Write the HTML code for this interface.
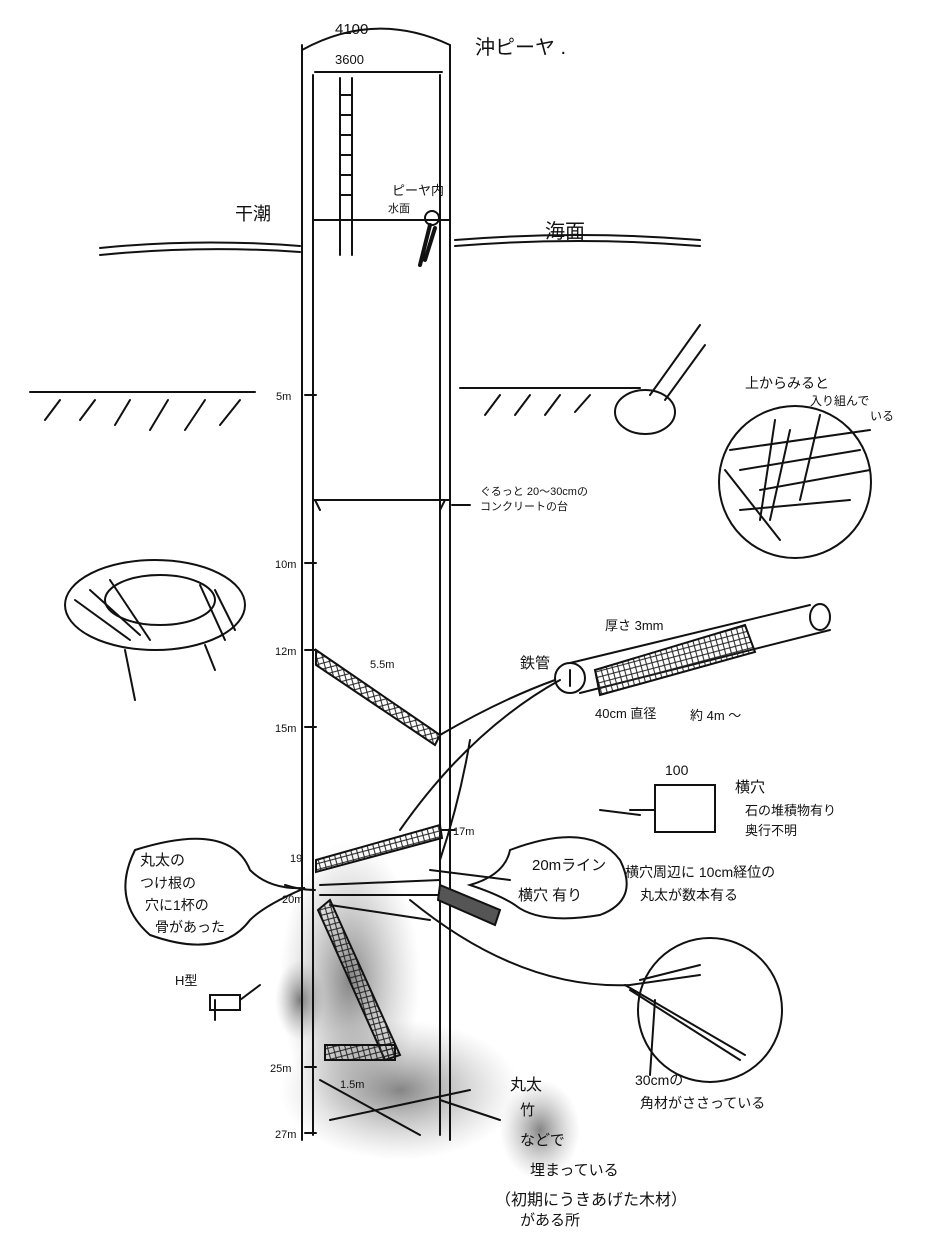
<!DOCTYPE html>
<html><head><meta charset="utf-8"><style>
html,body{margin:0;padding:0;background:#fff}
svg{display:block}
text{font-family:"Liberation Sans","Noto Sans CJK JP",sans-serif;fill:#111}
</style></head><body>
<svg width="937" height="1260" viewBox="0 0 937 1260" xmlns="http://www.w3.org/2000/svg">
<defs>
<radialGradient id="sm" cx="50%" cy="50%" r="50%">
<stop offset="0" stop-color="#333" stop-opacity="0.6"/><stop offset="1" stop-color="#888" stop-opacity="0"/></radialGradient>
<pattern id="xh" width="8" height="8" patternUnits="userSpaceOnUse" patternTransform="rotate(30)">
<path d="M0 0L8 8M8 0L0 8" stroke="#222" stroke-width="1"/></pattern>
</defs>
<g stroke="#111" stroke-width="2" fill="none" stroke-linecap="round">
<!-- smudges -->
<ellipse cx="350" cy="980" rx="70" ry="140" fill="url(#sm)" stroke="none"/>
<ellipse cx="400" cy="1090" rx="120" ry="70" fill="url(#sm)" stroke="none"/>
<ellipse cx="540" cy="1130" rx="40" ry="50" fill="url(#sm)" stroke="none"/>
<ellipse cx="300" cy="1000" rx="25" ry="40" fill="url(#sm)" stroke="none"/>
<!-- shaft -->
<path d="M302 45V1140M313 75V1135M450 45V1140M440 75V1135"/>
<path d="M313 220H450"/>
<!-- top dimensions -->
<path d="M302 50Q375 10 450 45"/><path d="M315 72H442"/>
<!-- ladder -->
<path d="M340 78V255M352 78V255M340 95H352M340 115H352M340 135H352M340 155H352M340 175H352M340 195H352"/>
<!-- sea surface -->
<path d="M100 248Q200 238 300 246M100 255Q200 245 300 252M455 240Q580 230 700 240M455 246Q580 236 700 246"/>
<!-- diver -->
<circle cx="432" cy="218" r="7"/><path d="M430 225L420 265M435 228L425 260" stroke-width="4"/>
<!-- ground -->
<path d="M30 392H255"/>
<path d="M45 420L60 400M80 420L95 400M115 425L130 400M150 430L168 400M185 430L205 400M220 425L240 400"/>
<path d="M460 388H640"/>
<path d="M485 415L500 395M515 415L530 395M545 415L560 395M575 412L590 395"/>
<path d="M650 395L700 325M665 400L705 345"/>
<ellipse cx="645" cy="412" rx="30" ry="22"/>
<!-- ticks -->
<path d="M305 395H316M305 563H316M305 650H316M305 727H316M305 1067H316M305 1133H316M440 830H455"/>
<path d="M313 500H450M320 510L315 500M440 510L445 500M452 505H470"/>
<!-- right top circle -->
<circle cx="795" cy="482" r="76"/>
<path d="M730 450L870 430M740 470L860 450M760 490L870 470M740 510L850 500M775 420L760 520M820 415L800 500M790 430L770 520M725 470L780 540"/>
<!-- left object -->
<ellipse cx="155" cy="605" rx="90" ry="45"/><ellipse cx="160" cy="600" rx="55" ry="25"/>
<path d="M75 600L130 640M90 590L140 635M110 580L150 640M200 585L225 640M215 590L235 630M125 650L135 700M205 645L215 670"/>
<!-- pipe -->
<circle cx="570" cy="678" r="15"/>
<path d="M570 663L810 605M580 693L830 630"/>
<ellipse cx="820" cy="617" rx="10" ry="13"/>
<path d="M595 670L745 625L755 652L600 695Z" fill="url(#xh)"/>
<path d="M570 670V686"/>
<!-- diagonal beams -->
<path d="M316 650L440 735L435 745L316 665Z" fill="url(#xh)"/>
<path d="M316 860L440 825L442 838L316 872Z" fill="url(#xh)"/>
<path d="M320 885L440 880M320 895L445 895M330 905L430 920"/>
<path d="M330 900L400 1055L385 1060L318 910Z" fill="url(#xh)"/>
<path d="M325 1045H395V1060H325Z" fill="url(#xh)"/>
<path d="M440 885L500 910L495 925L438 900Z" fill="#555"/>
<!-- curves/arrows -->
<path d="M440 735Q500 700 555 680M400 830Q470 730 560 680M470 740Q460 800 440 860"/>
<path d="M430 870L510 880M410 900Q520 990 630 985M630 985L700 975"/>
<path d="M600 810L640 815M285 885Q300 890 315 890"/>
<!-- box -->
<path d="M655 785H715V832H655Z"/><path d="M630 810H655"/>
<!-- bubbles -->
<path d="M135 850Q230 820 250 870Q270 890 305 888Q265 905 250 920Q220 960 150 935Q110 900 135 850Z"/>
<path d="M510 850Q590 820 620 860Q640 900 600 915Q540 925 515 905Q500 895 470 885Q505 875 510 850Z"/>
<!-- bottom circle -->
<ellipse cx="710" cy="1010" rx="72" ry="72"/>
<path d="M625 985L745 1055M630 990L740 1060M640 980L700 965M655 1000L650 1075"/>
<!-- H beam -->
<path d="M210 995H240V1010H210ZM215 1000V1020M260 985L240 1000"/>
<path d="M320 1080L420 1135M330 1120L470 1090M440 1100L500 1120"/>
</g>
<g font-size="13">
<text x="335" y="34" font-size="15">4100</text>
<text x="335" y="64" font-size="13">3600</text>
<text x="475" y="54" font-size="20">沖ピーヤ .</text>
<text x="235" y="220" font-size="18">干潮</text>
<text x="545" y="238" font-size="20">海面</text>
<text x="392" y="195">ピーヤ内</text>
<text x="388" y="212" font-size="11">水面</text>
<text x="276" y="400" font-size="11">5m</text>
<text x="275" y="568" font-size="11">10m</text>
<text x="275" y="655" font-size="11">12m</text>
<text x="275" y="732" font-size="11">15m</text>
<text x="453" y="835" font-size="11">17m</text>
<text x="290" y="862" font-size="11">19</text>
<text x="282" y="903" font-size="11">20m</text>
<text x="270" y="1072" font-size="11">25m</text>
<text x="275" y="1138" font-size="11">27m</text>
<text x="370" y="668" font-size="11">5.5m</text>
<text x="340" y="1088" font-size="11">1.5m</text>
<text x="480" y="495" font-size="11">ぐるっと 20〜30cmの</text>
<text x="480" y="510" font-size="11">コンクリートの台</text>
<text x="745" y="388" font-size="14">上からみると</text>
<text x="810" y="405" font-size="12">入り組んで</text>
<text x="870" y="420" font-size="12">いる</text>
<text x="520" y="668" font-size="15">鉄管</text>
<text x="605" y="630" font-size="13">厚さ 3mm</text>
<text x="595" y="718" font-size="13">40cm 直径</text>
<text x="690" y="720" font-size="13">約 4m 〜</text>
<text x="665" y="775" font-size="14">100</text>
<text x="735" y="792" font-size="15">横穴</text>
<text x="745" y="815" font-size="13">石の堆積物有り</text>
<text x="745" y="835" font-size="13">奥行不明</text>
<text x="625" y="877" font-size="14">横穴周辺に 10cm経位の</text>
<text x="640" y="900" font-size="14">丸太が数本有る</text>
<text x="140" y="865" font-size="15">丸太の</text>
<text x="140" y="888" font-size="14">つけ根の</text>
<text x="145" y="910" font-size="14">穴に1杯の</text>
<text x="155" y="932" font-size="14">骨があった</text>
<text x="532" y="870" font-size="15">20mライン</text>
<text x="518" y="900" font-size="15">横穴 有り</text>
<text x="175" y="985" font-size="13">H型</text>
<text x="635" y="1085" font-size="14">30cmの</text>
<text x="640" y="1108" font-size="14">角材がささっている</text>
<text x="510" y="1090" font-size="16">丸太</text>
<text x="520" y="1115" font-size="15">竹</text>
<text x="520" y="1145" font-size="15">などで</text>
<text x="530" y="1175" font-size="15">埋まっている</text>
<text x="495" y="1205" font-size="16">（初期にうきあげた木材）</text>
<text x="520" y="1225" font-size="15">がある所</text>
</g>
</svg>
</body></html>
